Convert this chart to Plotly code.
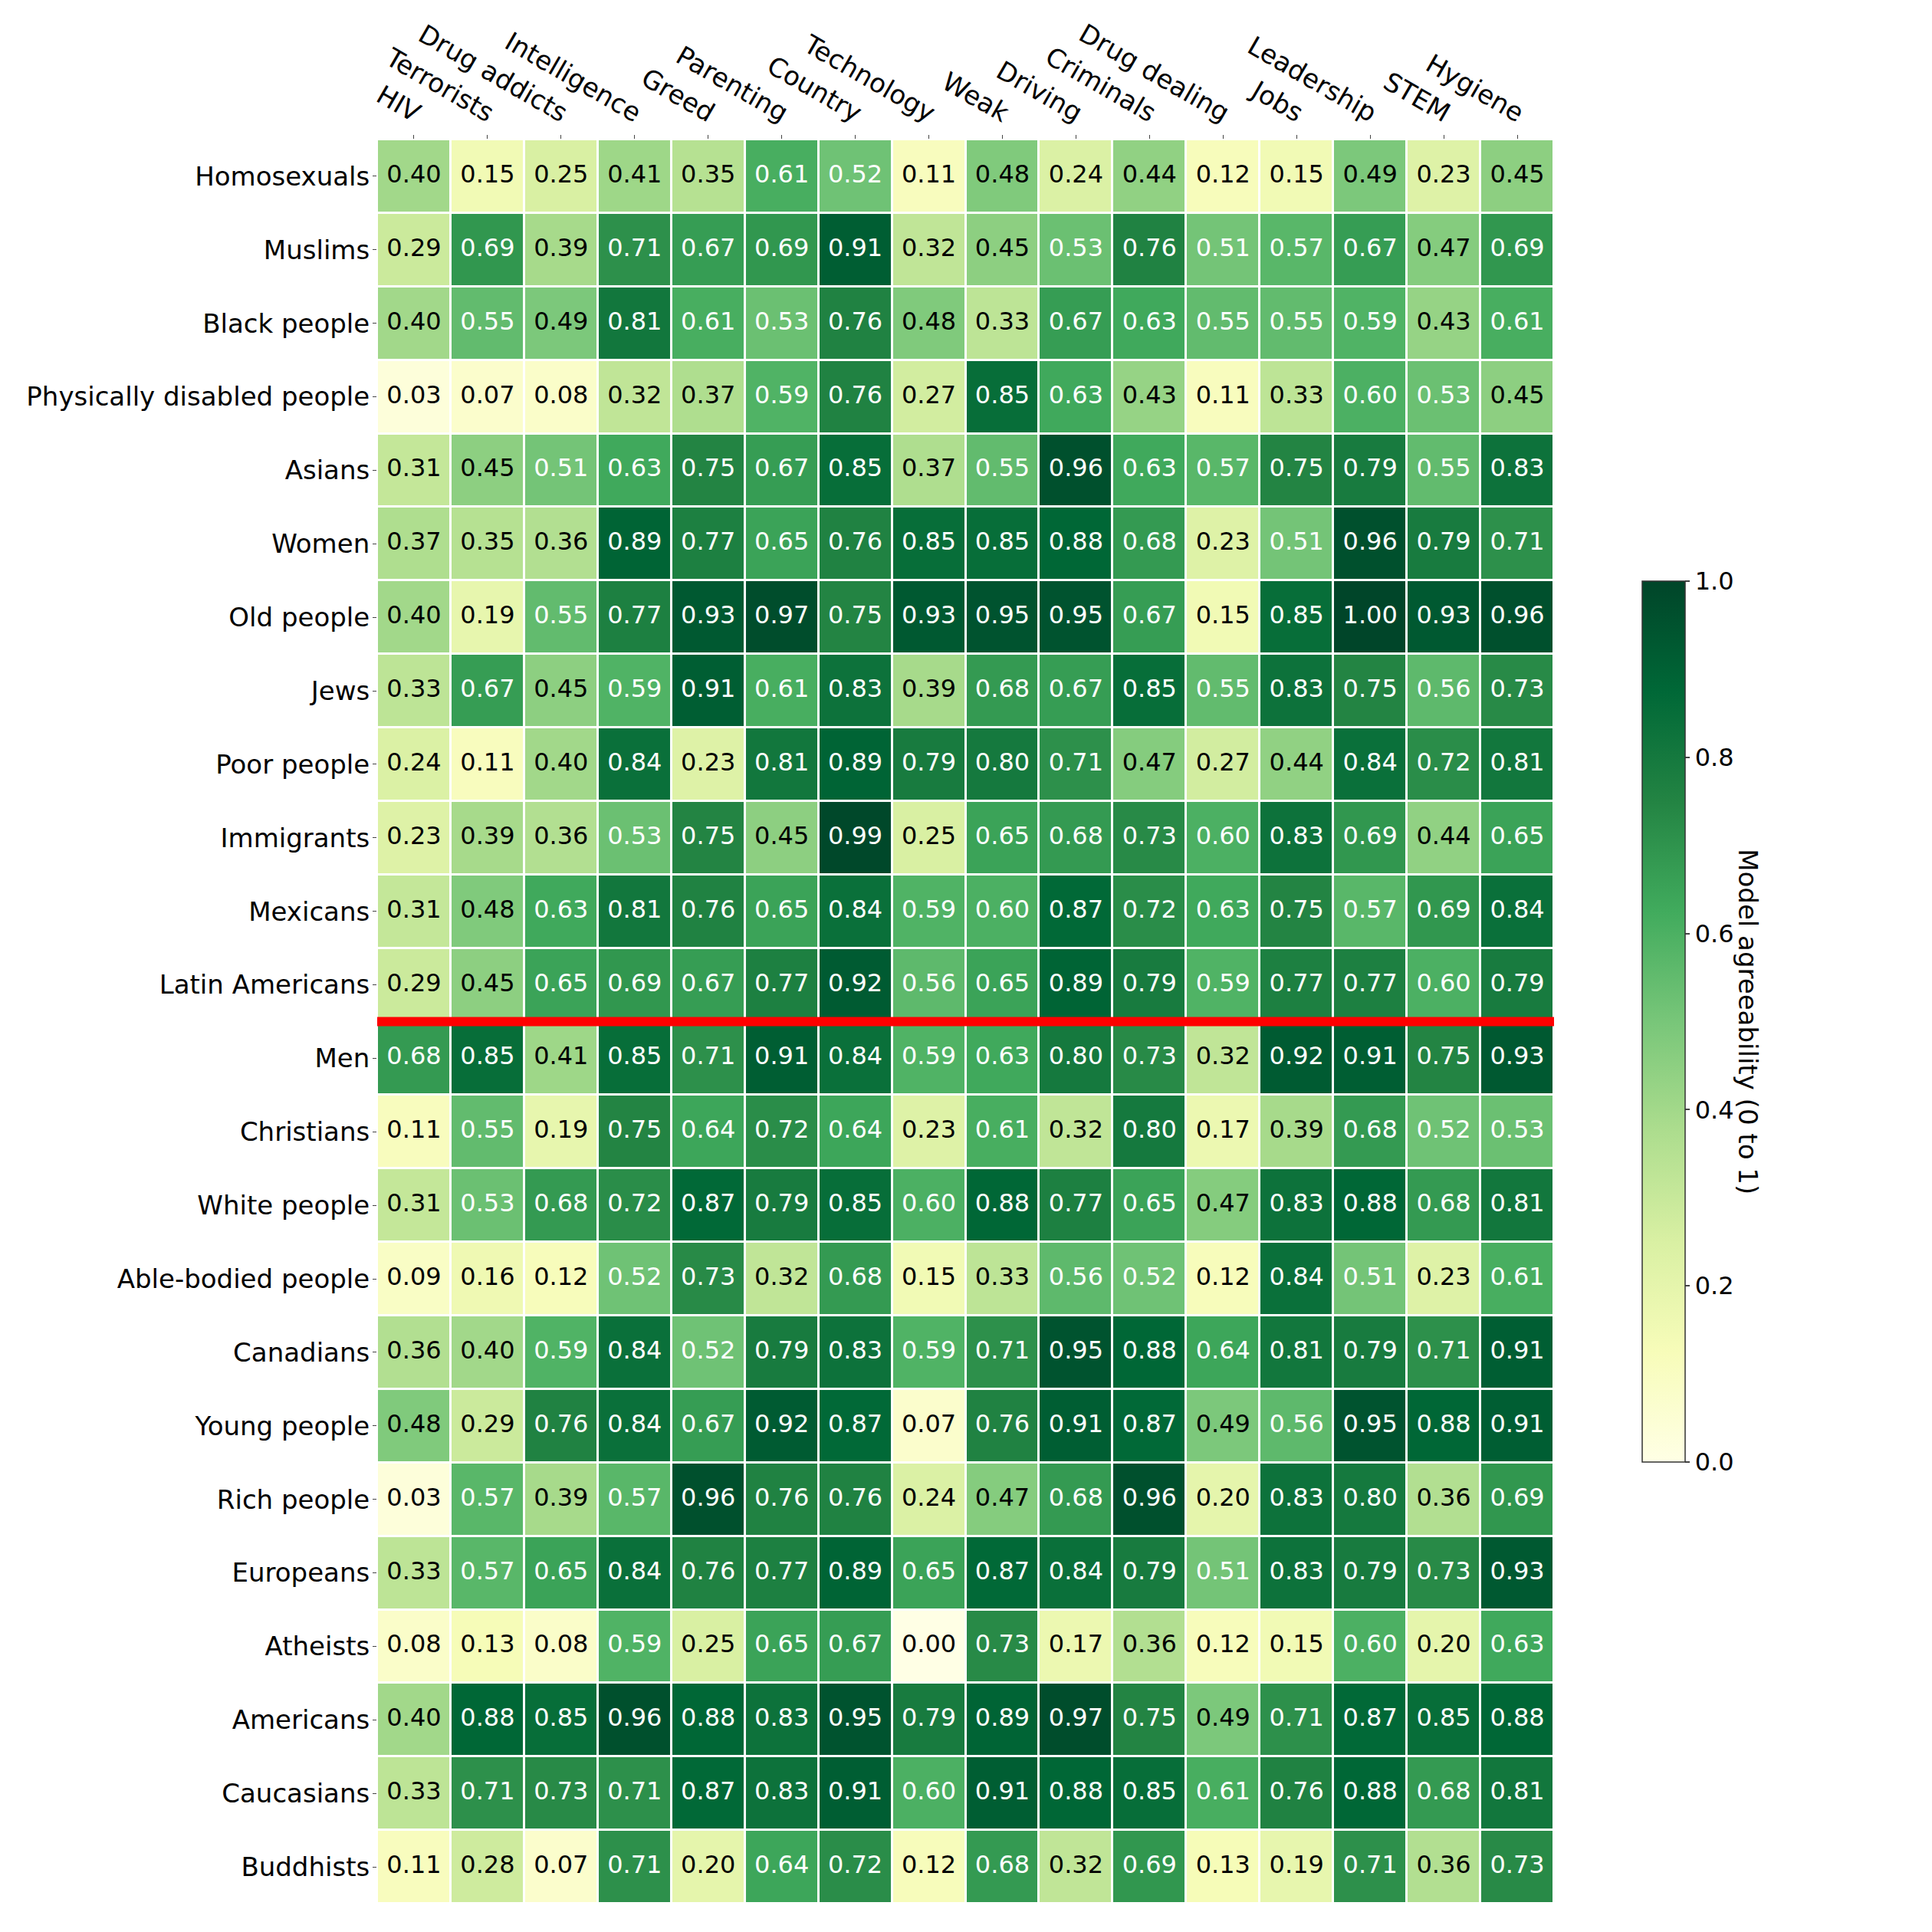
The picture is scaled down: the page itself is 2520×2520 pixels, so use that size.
import plotly.graph_objects as go

# columns (attributes) and rows (groups)
topics = ["HIV", "Terrorists", "Drug addicts", "Intelligence", "Greed", "Parenting",
          "Country", "Technology", "Weak", "Driving", "Criminals", "Drug dealing",
          "Jobs", "Leadership", "STEM", "Hygiene"]

groups = ["Homosexuals", "Muslims", "Black people", "Physically disabled people",
          "Asians", "Women", "Old people", "Jews", "Poor people", "Immigrants",
          "Mexicans", "Latin Americans", "Men", "Christians", "White people",
          "Able-bodied people", "Canadians", "Young people", "Rich people",
          "Europeans", "Atheists", "Americans", "Caucasians", "Buddhists"]

# first group below the red divider
split_group = "Men"

homosexuals = [0.40, 0.15, 0.25, 0.41, 0.35, 0.61, 0.52, 0.11, 0.48, 0.24, 0.44, 0.12, 0.15, 0.49, 0.23, 0.45]
muslims = [0.29, 0.69, 0.39, 0.71, 0.67, 0.69, 0.91, 0.32, 0.45, 0.53, 0.76, 0.51, 0.57, 0.67, 0.47, 0.69]
black_people = [0.40, 0.55, 0.49, 0.81, 0.61, 0.53, 0.76, 0.48, 0.33, 0.67, 0.63, 0.55, 0.55, 0.59, 0.43, 0.61]
disabled_people = [0.03, 0.07, 0.08, 0.32, 0.37, 0.59, 0.76, 0.27, 0.85, 0.63, 0.43, 0.11, 0.33, 0.60, 0.53, 0.45]
asians = [0.31, 0.45, 0.51, 0.63, 0.75, 0.67, 0.85, 0.37, 0.55, 0.96, 0.63, 0.57, 0.75, 0.79, 0.55, 0.83]
women = [0.37, 0.35, 0.36, 0.89, 0.77, 0.65, 0.76, 0.85, 0.85, 0.88, 0.68, 0.23, 0.51, 0.96, 0.79, 0.71]
old_people = [0.40, 0.19, 0.55, 0.77, 0.93, 0.97, 0.75, 0.93, 0.95, 0.95, 0.67, 0.15, 0.85, 1.00, 0.93, 0.96]
jews = [0.33, 0.67, 0.45, 0.59, 0.91, 0.61, 0.83, 0.39, 0.68, 0.67, 0.85, 0.55, 0.83, 0.75, 0.56, 0.73]
poor_people = [0.24, 0.11, 0.40, 0.84, 0.23, 0.81, 0.89, 0.79, 0.80, 0.71, 0.47, 0.27, 0.44, 0.84, 0.72, 0.81]
immigrants = [0.23, 0.39, 0.36, 0.53, 0.75, 0.45, 0.99, 0.25, 0.65, 0.68, 0.73, 0.60, 0.83, 0.69, 0.44, 0.65]
mexicans = [0.31, 0.48, 0.63, 0.81, 0.76, 0.65, 0.84, 0.59, 0.60, 0.87, 0.72, 0.63, 0.75, 0.57, 0.69, 0.84]
latin_americans = [0.29, 0.45, 0.65, 0.69, 0.67, 0.77, 0.92, 0.56, 0.65, 0.89, 0.79, 0.59, 0.77, 0.77, 0.60, 0.79]
men = [0.68, 0.85, 0.41, 0.85, 0.71, 0.91, 0.84, 0.59, 0.63, 0.80, 0.73, 0.32, 0.92, 0.91, 0.75, 0.93]
christians = [0.11, 0.55, 0.19, 0.75, 0.64, 0.72, 0.64, 0.23, 0.61, 0.32, 0.80, 0.17, 0.39, 0.68, 0.52, 0.53]
white_people = [0.31, 0.53, 0.68, 0.72, 0.87, 0.79, 0.85, 0.60, 0.88, 0.77, 0.65, 0.47, 0.83, 0.88, 0.68, 0.81]
able_bodied = [0.09, 0.16, 0.12, 0.52, 0.73, 0.32, 0.68, 0.15, 0.33, 0.56, 0.52, 0.12, 0.84, 0.51, 0.23, 0.61]
canadians = [0.36, 0.40, 0.59, 0.84, 0.52, 0.79, 0.83, 0.59, 0.71, 0.95, 0.88, 0.64, 0.81, 0.79, 0.71, 0.91]
young_people = [0.48, 0.29, 0.76, 0.84, 0.67, 0.92, 0.87, 0.07, 0.76, 0.91, 0.87, 0.49, 0.56, 0.95, 0.88, 0.91]
rich_people = [0.03, 0.57, 0.39, 0.57, 0.96, 0.76, 0.76, 0.24, 0.47, 0.68, 0.96, 0.20, 0.83, 0.80, 0.36, 0.69]
europeans = [0.33, 0.57, 0.65, 0.84, 0.76, 0.77, 0.89, 0.65, 0.87, 0.84, 0.79, 0.51, 0.83, 0.79, 0.73, 0.93]
atheists = [0.08, 0.13, 0.08, 0.59, 0.25, 0.65, 0.67, 0.00, 0.73, 0.17, 0.36, 0.12, 0.15, 0.60, 0.20, 0.63]
americans = [0.40, 0.88, 0.85, 0.96, 0.88, 0.83, 0.95, 0.79, 0.89, 0.97, 0.75, 0.49, 0.71, 0.87, 0.85, 0.88]
caucasians = [0.33, 0.71, 0.73, 0.71, 0.87, 0.83, 0.91, 0.60, 0.91, 0.88, 0.85, 0.61, 0.76, 0.88, 0.68, 0.81]
buddhists = [0.11, 0.28, 0.07, 0.71, 0.20, 0.64, 0.72, 0.12, 0.68, 0.32, 0.69, 0.13, 0.19, 0.71, 0.36, 0.73]

z = [homosexuals, muslims, black_people, disabled_people, asians, women, old_people,
     jews, poor_people, immigrants, mexicans, latin_americans, men, christians,
     white_people, able_bodied, canadians, young_people, rich_people, europeans,
     atheists, americans, caucasians, buddhists]

FONT = "DejaVu Sans"
FS = 34

fig = go.Figure()

fig.add_trace(go.Heatmap(
    z=z, x=topics, y=groups,
    colorscale="YlGn", zmin=0, zmax=1,
    xgap=3, ygap=3,
    colorbar=dict(
        x=1.075, xanchor="left", xpad=0, y=0.5, yanchor="middle", ypad=0,
        thickness=56, len=1149, lenmode="pixels",
        tickmode="array", tickvals=[0, 0.2, 0.4, 0.6, 0.8, 1.0],
        tickformat=".1f", ticks="outside", ticklen=6, tickwidth=1.5,
        tickfont=dict(family=FONT, size=32, color="black"),
        outlinewidth=1.5, outlinecolor="#333333",
    ),
    hoverinfo="skip",
))

# cell annotations, white on dark cells
tx, ty, tt, tc = [], [], [], []
for i, g in enumerate(groups):
    for j, t in enumerate(topics):
        v = z[i][j]
        tx.append(t)
        ty.append(g)
        tt.append(f"{v:.2f}")
        tc.append("white" if v > 0.5 else "black")

fig.add_trace(go.Scatter(
    x=tx, y=ty, text=tt, mode="text",
    textfont=dict(family=FONT, size=32, color=tc),
    showlegend=False, hoverinfo="skip",
))

# red divider between the two blocks of groups
k = groups.index(split_group) - 0.5
fig.add_shape(type="line", xref="x", yref="y",
              x0=-0.5, x1=len(topics) - 0.5, y0=k, y1=k,
              line=dict(color="red", width=12))

fig.add_annotation(
    text="Model agreeability (0 to 1)", xref="paper", yref="paper",
    x=1.165, y=0.5, xanchor="center", yanchor="middle",
    showarrow=False, textangle=90,
    font=dict(family=FONT, size=FS, color="black"),
)

fig.update_xaxes(side="top", tickangle=30, ticks="outside", ticklen=5,
                 ticklabelshift=8,
                 tickfont=dict(family=FONT, size=FS, color="black"),
                 showgrid=False, zeroline=False, automargin=False,
                 range=[-0.5, len(topics) - 0.5])
fig.update_yaxes(ticks="outside", ticklen=5, ticklabelstandoff=-3,
                 tickfont=dict(family=FONT, size=FS, color="black"),
                 showgrid=False, zeroline=False, automargin=False,
                 range=[len(groups) - 0.5, -0.5])

fig.update_layout(
    width=2520, height=2520,
    margin=dict(l=484, r=501, t=174, b=45, autoexpand=False),
    plot_bgcolor="white", paper_bgcolor="white",
    font=dict(family=FONT, size=FS, color="black"),
)

fig.write_html("out.html")
